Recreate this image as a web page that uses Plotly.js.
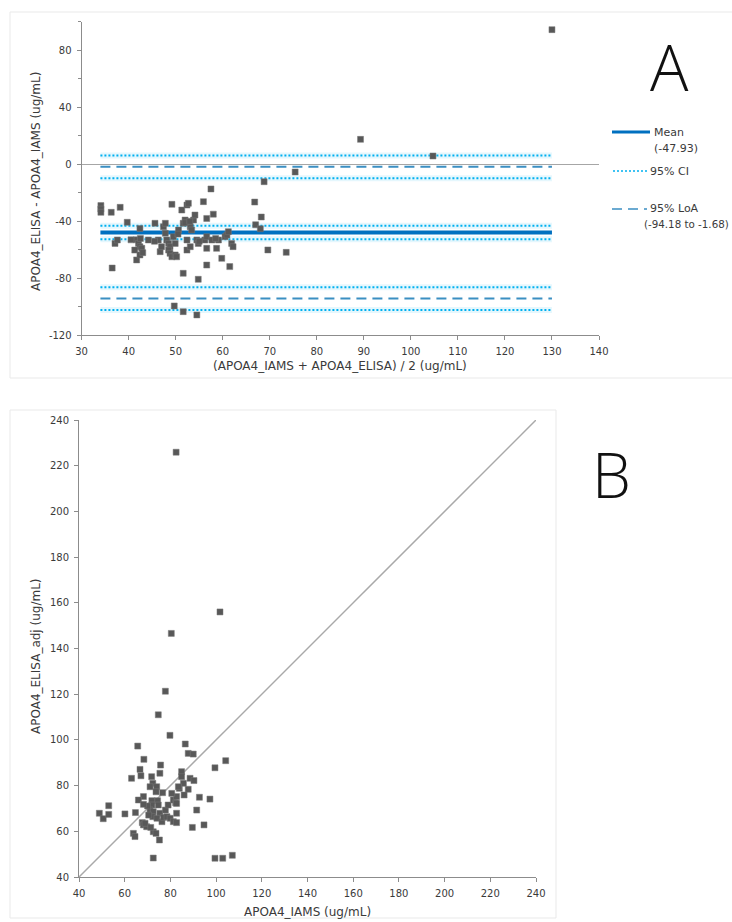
<!DOCTYPE html>
<html>
<head>
<meta charset="utf-8">
<script src="https://cdn.plot.ly/plotly-3.0.1.min.js"></script>
<style>
  html, body { margin: 0; padding: 0; background: #ffffff; }
  #chart { width: 732px; height: 922px; }
</style>
</head>
<body>
<div id="chart"></div>
<script>
// ---- Panel A: Bland–Altman (average of the two methods vs. their difference) ----
const baAverage = [
  130.0, 89.3, 104.7, 75.4, 68.8, 66.8, 68.2, 67.0, 68.0, 69.6, 73.5,
  34.1, 34.1, 34.1, 36.3, 38.2, 39.7, 36.5, 37.1, 37.6, 42.4,
  41.7, 42.1, 42.4, 41.3, 41.7, 42.4, 42.8, 44.2, 45.6, 46.3,
  46.7, 47.0, 47.4, 47.8, 47.8, 48.1, 48.5, 48.8, 48.5, 48.8,
  49.2, 49.2, 49.5, 49.9, 49.9, 50.2, 49.7, 50.6, 51.6, 51.6,
  51.3, 51.6, 52.0, 52.4, 52.7, 53.1, 53.4, 53.8, 54.1, 52.4,
  52.4, 53.1, 54.5, 54.8, 54.8, 54.5, 55.9, 56.2, 56.6, 56.6,
  56.6, 57.5, 56.6, 58.0, 57.7, 58.7, 59.1, 59.8, 60.5, 60.9,
  61.2, 61.5, 61.9, 62.2, 42.5, 40.5, 43.0, 45.5, 50.5, 52.0,
  53.0, 58.5, 55.0
];
const baDifference = [
  94.5, 17.5, 5.8, -5.4, -12.2, -26.5, -37.0, -42.4, -45.2, -60.1, -61.8,
  -29.0, -31.4, -33.7, -33.7, -30.2, -40.7, -72.8, -55.5, -53.1, -45.0,
  -53.0, -55.5, -57.8, -60.2, -67.1, -63.6, -59.0, -53.1, -41.4, -53.1,
  -61.3, -57.8, -43.8, -41.4, -48.4, -53.1, -55.5, -57.8, -60.2, -62.5,
  -64.9, -28.1, -50.8, -55.5, -63.6, -64.9, -99.4, -46.1, -103.4, -76.5,
  -32.1, -41.4, -39.1, -28.6, -27.4, -43.8, -46.1, -39.1, -35.6, -53.1,
  -60.2, -57.8, -53.1, -55.5, -80.7, -105.7, -26.2, -53.1, -50.8, -59.0,
  -70.7, -17.3, -38.0, -35.0, -53.1, -59.0, -53.1, -66.0, -50.8, -49.6,
  -47.3, -71.8, -55.5, -57.8, -52.0, -53.0, -62.0, -54.0, -49.0, -41.0,
  -40.0, -52.0, -54.0
];

// Summary statistics of the differences
const meanDifference = -47.93;
const limitsOfAgreement = [-94.18, -1.68];
const meanCI = [-52.6, -43.2];
const lowerLimitCI = [-102.2, -86.2];
const upperLimitCI = [-9.8, 6.2];
const statLineExtent = [34, 130];

const yTicksA = [-120, -80, -40, 0, 40, 80];
const yMinorTicksA = [-100, -60, -20, 20, 60, 100];

// ---- Panel B: adjusted ELISA vs. IAMS ----
const iams = [
  82.5, 101.7, 80.4, 77.8, 74.7, 79.8, 65.7, 86.5, 68.4, 87.8, 90.0,
  99.5, 104.2, 66.7, 67.1, 63.0, 75.7, 75.4, 71.8, 72.3, 71.1, 74.0,
  73.7, 76.6, 74.4, 71.9, 74.7, 68.2, 66.0, 71.9, 71.1, 72.5, 75.4,
  72.3, 74.1, 76.3, 77.0, 78.5, 79.9, 81.3, 77.8, 79.0, 81.3, 82.7,
  82.3, 80.6, 83.9, 84.9, 84.9, 85.7, 83.5, 87.8, 86.0, 88.6, 90.3,
  91.5, 92.7, 97.3, 89.6, 94.7, 82.7, 82.7, 82.7, 67.7, 68.2, 69.6,
  68.9, 63.8, 64.5, 60.1, 64.7, 48.9, 50.6, 53.0, 53.0, 72.5, 73.7,
  75.2, 72.5, 99.5, 102.9, 107.1, 71.4, 70.0, 68.2, 70.5
];
const elisaAdj = [
  225.9, 156.0, 146.6, 121.3, 111.0, 102.0, 97.3, 98.2, 91.5, 94.1, 93.8,
  87.8, 90.9, 87.1, 84.3, 83.2, 89.0, 85.4, 83.9, 81.0, 79.5, 79.5,
  77.3, 76.9, 73.4, 73.4, 71.5, 75.2, 73.7, 71.5, 69.3, 68.6, 67.9,
  66.4, 65.7, 64.2, 66.1, 66.4, 65.7, 64.2, 69.3, 71.5, 73.7, 75.2,
  72.5, 76.6, 78.8, 86.1, 83.9, 81.0, 79.5, 78.4, 75.9, 83.2, 82.2,
  69.3, 74.9, 74.1, 61.7, 62.8, 72.2, 67.9, 63.8, 63.8, 62.8, 62.0,
  63.5, 59.1, 57.7, 67.6, 68.2, 67.9, 65.5, 71.2, 67.4, 59.8, 59.1,
  56.2, 48.3, 48.2, 48.2, 49.5, 61.7, 71.1, 71.8, 67.1
];
const identityLine = [40, 240];
const ticksB = [40, 60, 80, 100, 120, 140, 160, 180, 200, 220, 240];

// ---- geometry helpers (figure pixels -> paper fractions) ----
const W = 732, H = 922;
const px = v => v / W;
const py = v => 1 - v / H;

const FONT = 'DejaVu Sans, Liberation Sans, Arial, sans-serif';
const LETTER_FONT = 'Open Sans, DejaVu Sans, sans-serif';
const AXIS_GREY = '#8c8c8c';
const TEXT = '#3a3a3a';
const MEAN_BLUE = '#0070c0';
const CI_CYAN = '#00b0f0';
const LOA_BLUE = '#3b8fc2';
const POINT = 'rgb(88,88,88)';

function hLine(yVal, color, width, dash) {
  return {
    type: 'scatter', mode: 'lines', xaxis: 'x', yaxis: 'y',
    x: statLineExtent, y: [yVal, yVal],
    line: { color: color, width: width, dash: dash },
    hoverinfo: 'skip', showlegend: false
  };
}

const traces = [];
const ciLevels = [].concat(meanCI, lowerLimitCI, upperLimitCI);
// soft glow under the dotted confidence lines
ciLevels.forEach(v => traces.push(hLine(v, 'rgba(0,176,240,0.10)', 6, 'solid')));
// confidence bands (dotted)
ciLevels.forEach(v => traces.push(hLine(v, CI_CYAN, 2, '2px,2px')));
// limits of agreement (dashed)
limitsOfAgreement.forEach(v => traces.push(hLine(v, LOA_BLUE, 2, '10px,6px')));
// mean difference (solid)
traces.push(hLine(meanDifference, MEAN_BLUE, 4, 'solid'));
// Bland–Altman points
traces.push({
  type: 'scatter', mode: 'markers', xaxis: 'x', yaxis: 'y',
  x: baAverage, y: baDifference,
  marker: { symbol: 'square', size: 6, color: POINT, line: { width: 0.5, color: 'rgb(120,120,120)' } },
  showlegend: false
});

// Panel B: identity line and method-comparison points
traces.push({
  type: 'scatter', mode: 'lines', xaxis: 'x2', yaxis: 'y2',
  x: identityLine, y: identityLine,
  line: { color: '#a9a9a9', width: 1.5 }, hoverinfo: 'skip', showlegend: false
});
traces.push({
  type: 'scatter', mode: 'markers', xaxis: 'x2', yaxis: 'y2',
  x: iams, y: elisaAdj,
  marker: { symbol: 'square', size: 6, color: POINT, line: { width: 0.5, color: 'rgb(120,120,120)' } },
  showlegend: false
});

const tickFont = { family: FONT, size: 10, color: TEXT };
const axisBase = {
  showgrid: false, showline: true, linecolor: AXIS_GREY, linewidth: 1,
  ticks: 'outside', ticklen: 4, tickcolor: AXIS_GREY, tickwidth: 1,
  tickfont: tickFont, zeroline: false, fixedrange: true, ticklabelstandoff: 3
};

const fmt = v => v.toFixed(2);

const annotations = [
  // panel letters
  { text: 'A', x: px(669), y: py(66), xref: 'paper', yref: 'paper', showarrow: false,
    xanchor: 'center', yanchor: 'middle', font: { family: LETTER_FONT, size: 64, color: '#111', weight: 300 } },
  { text: 'B', x: px(611), y: py(474), xref: 'paper', yref: 'paper', showarrow: false,
    xanchor: 'center', yanchor: 'middle', font: { family: LETTER_FONT, size: 62, color: '#111', weight: 300 } },
  // axis titles
  { text: 'APOA4_ELISA - APOA4_IAMS (ug/mL)', x: px(36), y: py(182), xref: 'paper', yref: 'paper',
    showarrow: false, textangle: -90, xanchor: 'center', yanchor: 'middle', font: { family: FONT, size: 12, color: TEXT } },
  { text: '(APOA4_IAMS + APOA4_ELISA) / 2 (ug/mL)', x: px(340), y: py(366), xref: 'paper', yref: 'paper',
    showarrow: false, xanchor: 'center', yanchor: 'middle', font: { family: FONT, size: 12, color: TEXT } },
  { text: 'APOA4_ELISA_adj (ug/mL)', x: px(36), y: py(656), xref: 'paper', yref: 'paper',
    showarrow: false, textangle: -90, xanchor: 'center', yanchor: 'middle', font: { family: FONT, size: 12, color: TEXT } },
  { text: 'APOA4_IAMS (ug/mL)', x: px(307), y: py(912), xref: 'paper', yref: 'paper',
    showarrow: false, xanchor: 'center', yanchor: 'middle', font: { family: FONT, size: 12, color: TEXT } },
  // legend labels
  { text: 'Mean', x: px(652), y: py(132), xref: 'paper', yref: 'paper', showarrow: false,
    xanchor: 'left', yanchor: 'middle', font: { family: FONT, size: 11, color: TEXT } },
  { text: '(' + fmt(meanDifference) + ')', x: px(652), y: py(148), xref: 'paper', yref: 'paper', showarrow: false,
    xanchor: 'left', yanchor: 'middle', font: { family: FONT, size: 11, color: TEXT } },
  { text: '95% CI', x: px(648), y: py(171), xref: 'paper', yref: 'paper', showarrow: false,
    xanchor: 'left', yanchor: 'middle', font: { family: FONT, size: 11, color: TEXT } },
  { text: '95% LoA', x: px(648), y: py(209), xref: 'paper', yref: 'paper', showarrow: false,
    xanchor: 'left', yanchor: 'middle', font: { family: FONT, size: 11, color: TEXT } },
  { text: '(' + fmt(limitsOfAgreement[0]) + ' to ' + fmt(limitsOfAgreement[1]) + ')', x: px(642), y: py(224),
    xref: 'paper', yref: 'paper', showarrow: false, xanchor: 'left', yanchor: 'middle',
    font: { family: FONT, size: 10.3, color: TEXT } }
];

const shapes = [
  // chart-area frames
  { type: 'rect', xref: 'paper', yref: 'paper', x0: px(10), x1: px(740), y0: py(378), y1: py(12),
    line: { color: '#e9e9e9', width: 1 }, fillcolor: 'rgba(0,0,0,0)', layer: 'below' },
  { type: 'rect', xref: 'paper', yref: 'paper', x0: px(10), x1: px(556), y0: py(918), y1: py(410),
    line: { color: '#e9e9e9', width: 1 }, fillcolor: 'rgba(0,0,0,0)', layer: 'below' },
  // legend keys
  { type: 'line', xref: 'paper', yref: 'paper', x0: px(612), x1: px(650), y0: py(132), y1: py(132),
    line: { color: MEAN_BLUE, width: 3 } },
  { type: 'line', xref: 'paper', yref: 'paper', x0: px(613), x1: px(647), y0: py(171), y1: py(171),
    line: { color: CI_CYAN, width: 1.5, dash: '2px,2px' } },
  { type: 'line', xref: 'paper', yref: 'paper', x0: px(612), x1: px(647), y0: py(209), y1: py(209),
    line: { color: LOA_BLUE, width: 1.5, dash: '10px,6px' } }
];

const layout = {
  width: W, height: H,
  margin: { l: 0, r: 0, t: 0, b: 0 },
  paper_bgcolor: '#ffffff', plot_bgcolor: 'rgba(0,0,0,0)',
  showlegend: false,
  xaxis: Object.assign({}, axisBase, {
    domain: [px(81.6), px(599)], range: [30, 140], tick0: 30, dtick: 10, anchor: 'y'
  }),
  yaxis: Object.assign({}, axisBase, {
    domain: [py(335.3), py(21.8)], range: [-120, 100],
    tickmode: 'array', tickvals: yTicksA, ticktext: yTicksA.map(String),
    minor: { tickmode: 'array', tickvals: yMinorTicksA, ticks: 'outside', ticklen: 3, tickcolor: AXIS_GREY },
    zeroline: true, zerolinecolor: '#a6a6a6', zerolinewidth: 1.5, anchor: 'x'
  }),
  xaxis2: Object.assign({}, axisBase, {
    domain: [px(79), px(536)], range: [40, 240],
    tickmode: 'array', tickvals: ticksB, ticktext: ticksB.map(String), anchor: 'y2'
  }),
  yaxis2: Object.assign({}, axisBase, {
    domain: [py(877), py(420)], range: [40, 240],
    tickmode: 'array', tickvals: ticksB, ticktext: ticksB.map(String), anchor: 'x2'
  }),
  annotations: annotations,
  shapes: shapes
};

Plotly.newPlot('chart', traces, layout, { staticPlot: true, displayModeBar: false });
</script>
</body>
</html>
